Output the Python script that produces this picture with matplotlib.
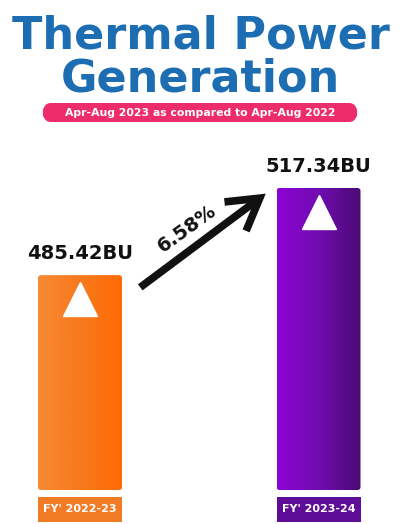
import numpy as np
import matplotlib
matplotlib.use("Agg")
import matplotlib.pyplot as plt
from matplotlib import transforms
from matplotlib.patches import FancyBboxPatch, Rectangle
from matplotlib.colors import LinearSegmentedColormap

# ---- data ----
categories = ["FY' 2022-23", "FY' 2023-24"]
values = [485.42, 517.34]
value_labels = ["485.42BU", "517.34BU"]
growth_label = "6.58%"
title_lines = ["Thermal Power", "Generation"]
subtitle = "Apr-Aug 2023 as compared to Apr-Aug 2022"

W, H = 401, 524
DPI = 100
fig = plt.figure(figsize=(W / DPI, H / DPI), dpi=DPI)
fig.patch.set_facecolor("white")

def fx(px):
    return px / W

def fy(py):
    return 1 - py / H

# ---- title ----
title_color = "#1c6db2"
fig.text(0.5, fy(36), title_lines[0], ha="center", va="center", fontsize=32,
         fontweight="bold", family="DejaVu Sans", color=title_color)
fig.text(0.5, fy(79), title_lines[1], ha="center", va="center", fontsize=32,
         fontweight="bold", family="DejaVu Sans", color=title_color)

# subtitle pill
pill = FancyBboxPatch((fx(42), fy(122)), fx(358) - fx(42), fy(103) - fy(122),
                      boxstyle="round,pad=0,rounding_size=0.022",
                      transform=fig.transFigure, facecolor="#ec2d6a",
                      edgecolor="none", mutation_aspect=H / W)
fig.patches.append(pill)
fig.text(0.5, fy(112.5), subtitle, ha="center", va="center", fontsize=7.8,
         color="white", family="Liberation Sans Narrow", fontweight="bold")

# ---- bar axes ----
ax_bottom_px, ax_top_px = 490, 150
ax = fig.add_axes([0, fy(ax_bottom_px), 1, fy(ax_top_px) - fy(ax_bottom_px)])
x = np.arange(len(categories))
c0, c1 = 80.0, 318.5
scale = c1 - c0
base = 406.7
top_px = 188
per_px = (values[1] - base) / (ax_bottom_px - top_px)
xlim = (-c0 / scale, (W - c0) / scale)
ylim = (base, base + (ax_bottom_px - ax_top_px) * per_px)
ax.axis("off")
ax.patch.set_alpha(0)

bar_w = 84 / scale
bars = ax.bar(x, np.array(values) - base, bottom=base, width=bar_w,
              color="none", edgecolor="none")

grads = [
    ["#f78a33", "#f77a1c", "#ff6a04"],
    ["#8e04d6", "#700cb0", "#4a0a74"],
]
for b, g in zip(bars, grads):
    cmap = LinearSegmentedColormap.from_list("g", g)
    xb, yb = b.get_x(), b.get_y()
    wb, hb = b.get_width(), b.get_height()
    grad = np.linspace(0, 1, 256).reshape(1, -1)
    im = ax.imshow(grad, cmap=cmap, aspect="auto",
                   extent=(xb, xb + wb, yb, yb + hb), zorder=2)
    clip = FancyBboxPatch((xb, yb), wb, hb,
                          boxstyle="round,pad=0,rounding_size=0.012",
                          mutation_aspect=per_px * scale,
                          transform=ax.transData, facecolor="none",
                          edgecolor="none")
    ax.add_patch(clip)
    im.set_clip_path(clip)
ax.set_xlim(*xlim)
ax.set_ylim(*ylim)

# white triangles
for xi, v in zip(x, values):
    off = transforms.ScaledTranslation(0, -24 / DPI, fig.dpi_scale_trans)
    ax.plot([xi], [v], marker="^", markersize=25, color="white",
            markeredgecolor="white", transform=ax.transData + off, zorder=5,
            clip_on=False)

# value labels
for xi, v, lab in zip(x, values, value_labels):
    off = transforms.ScaledTranslation(0, 12 / DPI, fig.dpi_scale_trans)
    ax.text(xi, v, lab, ha="center", va="bottom", fontsize=14,
            fontweight="bold", color="#111111", transform=ax.transData + off,
            family="DejaVu Sans")

# category label boxes
blend = transforms.blended_transform_factory(ax.transData, fig.transFigure)
box_cols = ["#f27b25", "#5e0d98"]
for xi, cat, col in zip(x, categories, box_cols):
    r = Rectangle((xi - bar_w / 2, fy(522)), bar_w, fy(497) - fy(522),
                  transform=blend, facecolor=col, edgecolor="none",
                  clip_on=False)
    ax.add_patch(r)
    ax.text(xi, fy(509.5), cat, transform=blend, ha="center", va="center",
            fontsize=8, fontweight="bold", color="white", clip_on=False)

# growth arrow
fig_px = lambda px, py: (fx(px), fy(py))
ax.annotate("", xy=fig_px(268, 192), xytext=fig_px(138, 289),
            xycoords="figure fraction", textcoords="figure fraction",
            arrowprops=dict(arrowstyle="->,head_length=2.2,head_width=1.3",
                            lw=5.5, color="#111111", capstyle="butt",
                            joinstyle="miter"))
fig.text(fx(187), fy(229), growth_label, rotation=36, ha="center", va="center",
         fontsize=14, fontweight="bold", color="#111111",
         rotation_mode="anchor")

fig.savefig("out.png", dpi=DPI, facecolor="white")
